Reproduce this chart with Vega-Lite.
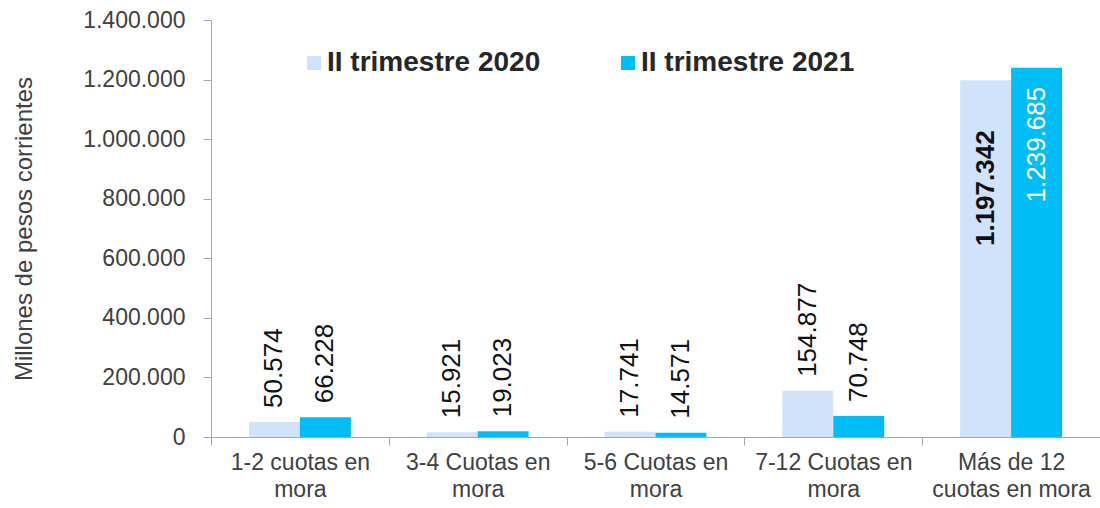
{
  "$schema": "https://vega.github.io/schema/vega-lite/v6.json",
  "autosize": {"type": "none"},
  "padding": {"left": 211, "top": 20, "right": 0, "bottom": 71},
  "width": 889,
  "height": 417,
  "background": "white",
  "config": {
    "font": "Liberation Sans",
    "view": {"stroke": null},
    "locale": {"number": {"decimal": ",", "thousands": ".", "grouping": [3], "currency": ["$", ""]}}
  },
  "data": {
    "values": [
      {"cat": "1-2 cuotas en mora", "serie": "II trimestre 2020", "valor": 50574},
      {"cat": "1-2 cuotas en mora", "serie": "II trimestre 2021", "valor": 66228},
      {"cat": "3-4 Cuotas en mora", "serie": "II trimestre 2020", "valor": 15921},
      {"cat": "3-4 Cuotas en mora", "serie": "II trimestre 2021", "valor": 19023},
      {"cat": "5-6 Cuotas en mora", "serie": "II trimestre 2020", "valor": 17741},
      {"cat": "5-6 Cuotas en mora", "serie": "II trimestre 2021", "valor": 14571},
      {"cat": "7-12 Cuotas en mora", "serie": "II trimestre 2020", "valor": 154877},
      {"cat": "7-12 Cuotas en mora", "serie": "II trimestre 2021", "valor": 70748},
      {"cat": "Más de 12 cuotas en mora", "serie": "II trimestre 2020", "valor": 1197342},
      {"cat": "Más de 12 cuotas en mora", "serie": "II trimestre 2021", "valor": 1239685}
    ]
  },
  "encoding": {
    "x": {
      "field": "cat",
      "type": "nominal",
      "sort": null,
      "scale": {"paddingInner": 0, "paddingOuter": 0},
      "axis": {
        "title": null,
        "labelAngle": 0,
        "labelFontSize": 23,
        "labelColor": "#404040",
        "labelLineHeight": 27,
        "labelPadding": 6,
        "labelBaseline": "top",
        "tickBand": "extent",
        "tickSize": 8,
        "tickColor": "#a6a6a6",
        "domainColor": "#a6a6a6",
        "labelExpr": "!isString(datum.value) ? '' : datum.value == 'Más de 12 cuotas en mora' ? ['Más de 12', 'cuotas en mora'] : [replace(datum.value, ' mora', ''), 'mora']"
      }
    },
    "xOffset": {
      "field": "serie",
      "type": "nominal",
      "scale": {"paddingInner": 0, "paddingOuter": 0.745}
    },
    "y": {
      "field": "valor",
      "type": "quantitative",
      "scale": {"domain": [0, 1400000], "nice": false},
      "axis": {
        "title": "Millones de pesos corrientes",
        "titleFontSize": 24,
        "titleFontWeight": "normal",
        "titleColor": "#404040",
        "titlePadding": 46,
        "values": [0, 200000, 400000, 600000, 800000, 1000000, 1200000, 1400000],
        "format": ",d",
        "grid": false,
        "labelFontSize": 23,
        "labelColor": "#404040",
        "labelPadding": 18,
        "tickSize": 8,
        "tickColor": "#a6a6a6",
        "domainColor": "#a6a6a6"
      }
    }
  },
  "layer": [
    {
      "mark": {"type": "bar"},
      "encoding": {
        "color": {
          "field": "serie",
          "type": "nominal",
          "scale": {"domain": ["II trimestre 2020", "II trimestre 2021"], "range": ["#d0e3fa", "#00bdf5"]},
          "legend": {
            "title": null,
            "orient": "none",
            "direction": "horizontal",
            "legendX": 89,
            "legendY": 29,
            "symbolType": "square",
            "symbolSize": 196,
            "symbolStrokeWidth": 0,
            "symbolOpacity": 1,
            "labelFontSize": 28,
            "labelFontWeight": "bold",
            "labelColor": "#262626",
            "labelOffset": -1,
            "columnPadding": 73,
            "labelLimit": 400
          }
        }
      }
    },
    {
      "transform": [{"filter": "datum.cat != 'Más de 12 cuotas en mora'"}],
      "mark": {"type": "text", "angle": -90, "align": "left", "baseline": "middle", "dx": 14, "fontSize": 26, "color": "#111111"},
      "encoding": {"text": {"field": "valor", "type": "quantitative", "format": ",d"}}
    },
    {
      "transform": [{"filter": "datum.cat == 'Más de 12 cuotas en mora' && datum.serie == 'II trimestre 2020'"}],
      "mark": {"type": "text", "angle": -90, "align": "right", "baseline": "middle", "dx": -50, "fontSize": 26, "fontWeight": "bold", "color": "#111111"},
      "encoding": {"text": {"field": "valor", "type": "quantitative", "format": ",d"}}
    },
    {
      "transform": [{"filter": "datum.cat == 'Más de 12 cuotas en mora' && datum.serie == 'II trimestre 2021'"}],
      "mark": {"type": "text", "angle": -90, "align": "right", "baseline": "middle", "dx": -19, "fontSize": 26, "color": "#ffffff"},
      "encoding": {"text": {"field": "valor", "type": "quantitative", "format": ",d"}}
    }
  ]
}
